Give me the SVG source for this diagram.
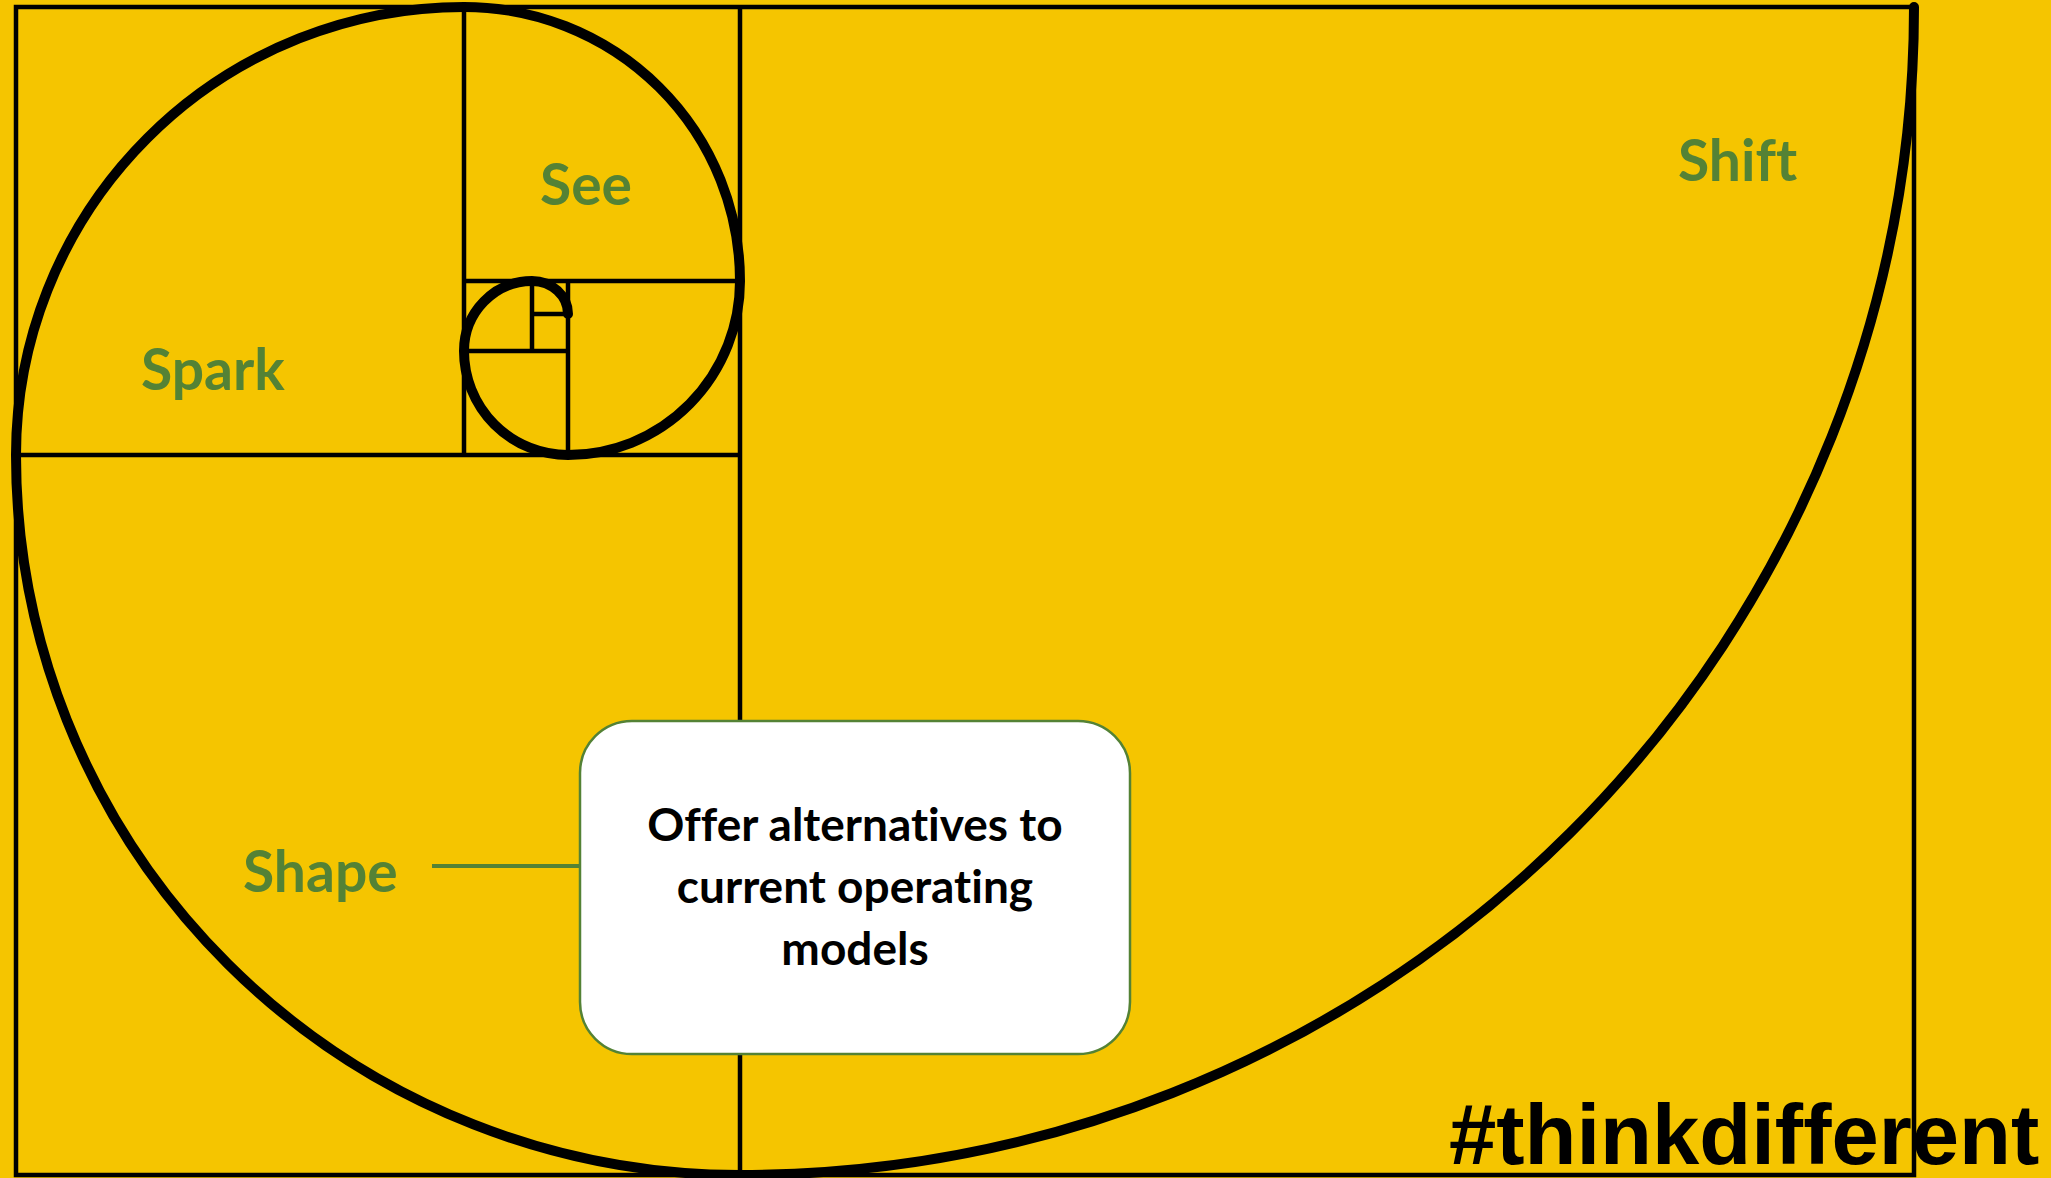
<svg xmlns="http://www.w3.org/2000/svg" width="2051" height="1178" viewBox="0 0 2051 1178">
<style>
.grid{fill:none;stroke:#000;stroke-width:4.5}
.spiral{fill:none;stroke:#000;stroke-width:10;stroke-linecap:round}
.lbl{font-family:Lato,"Open Sans",sans-serif;font-weight:700;fill:#548235;font-size:57px;font-variant-ligatures:none}
.box{fill:#fff;stroke:#548235;stroke-width:2.5}
.boxt{font-family:Lato,"Open Sans",sans-serif;font-weight:700;fill:#000;font-size:46px;text-anchor:middle;font-variant-ligatures:none}
.tag{font-family:"Liberation Sans",Arial,sans-serif;font-weight:700;fill:#000;font-size:85px}
</style>
<rect x="0" y="0" width="2051" height="1178" fill="#F5C500"/>
<g id="grid">
<rect class="grid" x="16" y="7" width="1898" height="1168"/>
<line class="grid" x1="740" y1="7" x2="740" y2="1175"/>
<line class="grid" x1="16" y1="455" x2="740" y2="455"/>
<line class="grid" x1="464" y1="7" x2="464" y2="455"/>
<line class="grid" x1="464" y1="281" x2="740" y2="281"/>
<line class="grid" x1="568" y1="281" x2="568" y2="455"/>
<line class="grid" x1="464" y1="351" x2="568" y2="351"/>
<line class="grid" x1="532" y1="281" x2="532" y2="351"/>
<line class="grid" x1="532" y1="314" x2="568" y2="314"/>
</g>
<g id="spiral">
<path class="spiral" d="M1914 7 A1174 1168 0 0 1 740 1175 A724 720 0 0 1 16 455 A448 448 0 0 1 464 7 A276 274 0 0 1 740 281 A172 174 0 0 1 568 455 A104 104 0 0 1 464 351 A68 70 0 0 1 532 281 A36 33 0 0 1 568 314"/>
</g>
<g id="connectors">
<line x1="432" y1="866" x2="580" y2="866" stroke="#548235" stroke-width="4"/>
</g>
<g id="see"><text class="lbl" x="540" y="205">See</text></g>
<g id="spark"><text class="lbl" x="141" y="390">Spark</text></g>
<g id="shift"><text class="lbl" x="1678" y="181">Shift</text></g>
<g id="shape"><text class="lbl" x="243" y="892">Shape</text></g>
<g id="box">
<rect class="box" x="580" y="721" width="550" height="333" rx="52" ry="52"/>
<text class="boxt" x="855" y="841">Offer alternatives to</text>
<text class="boxt" x="855" y="903">current operating</text>
<text class="boxt" x="855" y="965">models</text>
</g>
<g id="tag"><text class="tag" x="1449" y="1164">#thinkdifferent</text></g>
</svg>
